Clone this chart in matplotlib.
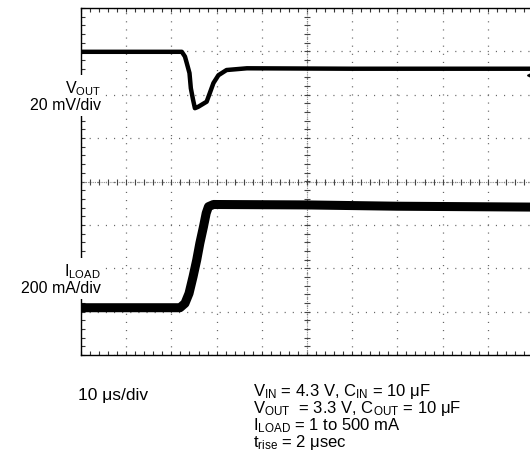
import numpy as np
import matplotlib
matplotlib.use('Agg')
import matplotlib.pyplot as plt

plt.rcParams['font.family'] = ['Liberation Sans', 'DejaVu Sans']
plt.rcParams['mathtext.fontset'] = 'custom'
plt.rcParams['mathtext.rm'] = 'Liberation Sans'
plt.rcParams['mathtext.it'] = 'Liberation Sans:italic'

# time in us (10 us/div), amplitude in divisions (0 = screen centre)
t_vout = [0, 10, 22.3, 23.0, 23.4, 24.0, 24.3, 24.8, 25.2, 25.9, 27.8, 28.5, 29.3, 30.4, 32.2, 36.7, 60, 100]
v_out = [2.99, 2.99, 2.99, 2.88, 2.73, 2.50, 2.15, 1.88, 1.69, 1.72, 1.84, 2.04, 2.27, 2.45, 2.57, 2.61, 2.60, 2.60]

t_load = [0, 21.9, 23.0, 23.9, 24.8, 25.6, 26.3, 27.1, 27.7, 28.2, 29.3, 50, 70, 100]
i_load = [-2.91, -2.91, -2.81, -2.58, -2.19, -1.81, -1.42, -1.04, -0.73, -0.58, -0.53, -0.54, -0.57, -0.59]

time_scale = '10 μs/div'
conditions = [r'V$_{\mathrm{IN}}$ = 4.3 V, C$_{\mathrm{IN}}$ = 10 μF',
              r'V$_{\mathrm{OUT}}$  = 3.3 V, C$_{\mathrm{OUT}}$ = 10 μF',
              r'I$_{\mathrm{LOAD}}$ = 1 to 500 mA',
              r't$_{\mathrm{rise}}$ = 2 μsec']

fig = plt.figure(figsize=(5.3, 4.63), dpi=100)
ax = fig.add_axes([81/530, 108/463, 452/530, 347/463])
ax.set_xlim(0, 100)
ax.set_ylim(-4, 4)

ax.set_xticks(np.arange(0, 101, 10))
ax.set_yticks(np.arange(-4, 5, 1))
ax.set_xticks(np.arange(0, 101, 2), minor=True)
ax.set_yticks(np.arange(-4, 4.01, 0.2), minor=True)
ax.tick_params(which='both', direction='in', top=True, bottom=True, left=True, right=False,
               length=3, width=0.8, labelbottom=False, labelleft=False, color='#333333')
ax.grid(which='major', color='#666666', lw=0.9, ls=(0, (0.9, 5.6)))
for s in ['top', 'bottom', 'left']:
    ax.spines[s].set_linewidth(1.0)
ax.spines['right'].set_visible(False)

# centre cross with small division marks
ax.axhline(0, color='#888888', lw=0.8, ls=(0, (1, 1)))
ax.axvline(50, color='#888888', lw=0.8, ls=(0, (1, 1)))
ax.plot(np.arange(0, 101, 2), np.zeros(51), ls='none', marker='|', ms=4, mew=0.8, color='#444444')
ax.plot(np.full(41, 50), np.arange(-4, 4.01, 0.2), ls='none', marker='_', ms=4, mew=0.8, color='#444444')

ax.plot(t_vout, v_out, color='black', lw=3.2, solid_joinstyle='round')
ax.plot(t_load, i_load, color='black', lw=6.5, solid_joinstyle='round')
ax.plot(t_vout[-1] - 0.5, v_out[-1] - 0.15, marker='<', ms=6, color='black', clip_on=False)

ax.text(101/530, 1 - 96/463, r'V$_{\mathrm{OUT}}$' + '\n20 mV/div', transform=fig.transFigure,
        ha='right', va='center', fontsize=11.5, linespacing=1.0, multialignment='right',
        bbox=dict(facecolor='white', edgecolor='none', pad=2))
ax.text(101/530, 1 - 279/463, r'I$_{\mathrm{LOAD}}$' + '\n200 mA/div', transform=fig.transFigure,
        ha='right', va='center', fontsize=11.5, linespacing=1.0, multialignment='right',
        bbox=dict(facecolor='white', edgecolor='none', pad=2))

fig.text(78/530, 1 - 400/463, time_scale, ha='left', va='baseline', fontsize=12.5)
fig.text(253/530, 1 - 447/463, '\n'.join(conditions), ha='left', va='baseline',
         fontsize=12, linespacing=0.86, multialignment='left')

fig.savefig('out.png', dpi=100)
